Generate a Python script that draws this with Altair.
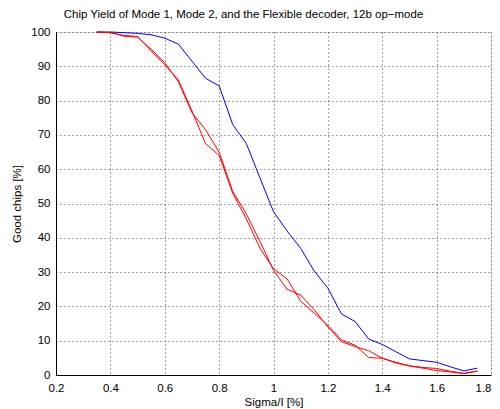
import altair as alt
import pandas as pd

x_vals = [0.35, 0.4, 0.45, 0.5, 0.55, 0.6, 0.65, 0.7, 0.75, 0.8, 0.85, 0.9, 0.95, 1.0,
          1.05, 1.1, 1.15, 1.2, 1.25, 1.3, 1.35, 1.4, 1.45, 1.5, 1.55, 1.6, 1.65, 1.7, 1.75]

flexible = [100, 100, 99.8, 99.6, 99.2, 98.2, 96.5, 91.5, 86.5, 84.3, 73, 67.5, 57.5, 47.6,
            42, 36.9, 30.3, 25.3, 17.8, 15.6, 10.5, 8.9, 6.8, 4.7, 4.2, 3.7, 2.4, 1.2, 2.0]
mode1 = [100, 99.8, 99, 98.7, 94.5, 90.5, 86, 77, 67.5, 64, 53, 45.5, 37, 31,
         28, 21.5, 18, 14.5, 10.2, 8.7, 5.1, 4.9, 3.7, 2.7, 2.2, 1.9, 1.1, 0.5, 1.2]
mode2 = [100, 99.8, 98.8, 98.5, 95, 91, 85.5, 76.5, 71.5, 65, 53.5, 47, 39, 30.5,
         25, 23.3, 19, 14, 9.7, 8.3, 7.1, 4.9, 3.5, 2.6, 2.0, 1.3, 0.9, 0.4, 1.1]

series_names = ["Flexible", "Mode 1", "Mode 2"]
series_colors = ["#0000ff", "#ff0000", "#ff0000"]

x_ticks = [0.2, 0.4, 0.6, 0.8, 1.0, 1.2, 1.4, 1.6, 1.8]
y_ticks = [0, 10, 20, 30, 40, 50, 60, 70, 80, 90, 100]

rows = []
for name, vals in zip(series_names, [flexible, mode1, mode2]):
    for i, (x, y) in enumerate(zip(x_vals, vals)):
        rows.append({"sigma": x, "good": y, "series": name, "order": i})
df = pd.DataFrame(rows)

FONT = "Liberation Sans"

chart = alt.Chart(df).mark_line(strokeWidth=1).encode(
    x=alt.X("sigma:Q",
            scale=alt.Scale(domain=[0.2, 1.8], nice=False, zero=False),
            axis=alt.Axis(values=x_ticks, format=".1~f", title="Sigma/I [%]",
                          tickSize=0, labelPadding=7, titlePadding=3,
                          labelAlign=alt.ExprRef(expr="datum.value >= 1.79 ? 'right' : 'center'"),
                          grid=True, gridDash=[1, 3], gridColor="#444",
                          domainColor="black", labelColor="black",
                          labelFontSize=11.5, titleFontSize=11.5, titleFontWeight="normal",
                          labelFont=FONT, titleFont=FONT, labelFlush=False)),
    y=alt.Y("good:Q",
            scale=alt.Scale(domain=[0, 100], nice=False),
            axis=alt.Axis(values=y_ticks, title="Good chips [%]",
                          tickSize=0, labelPadding=6, titlePadding=8,
                          grid=True, gridDash=[1, 3], gridColor="#444",
                          domainColor="black", labelColor="black",
                          labelFontSize=11.5, titleFontSize=11.5, titleFontWeight="normal",
                          labelFont=FONT, titleFont=FONT)),
    color=alt.Color("series:N",
                    scale=alt.Scale(domain=series_names, range=series_colors),
                    legend=None),
    detail="series:N",
    order="order:Q",
).properties(
    width=435,
    height=343,
    title=alt.TitleParams("Chip Yield of Mode 1, Mode 2, and the Flexible decoder, 12b op\u2212mode",
                          font=FONT, fontSize=11.5, fontWeight="normal", color="black",
                          anchor="middle", offset=6, dx=-30),
    autosize=alt.AutoSizeParams(type="none"),
    padding={"left": 48, "top": 24, "right": 1, "bottom": 34},
).configure_view(
    stroke="black", strokeWidth=1
).configure(background="white")

chart.save("out.html", embed_options={"renderer": "svg", "actions": False})
